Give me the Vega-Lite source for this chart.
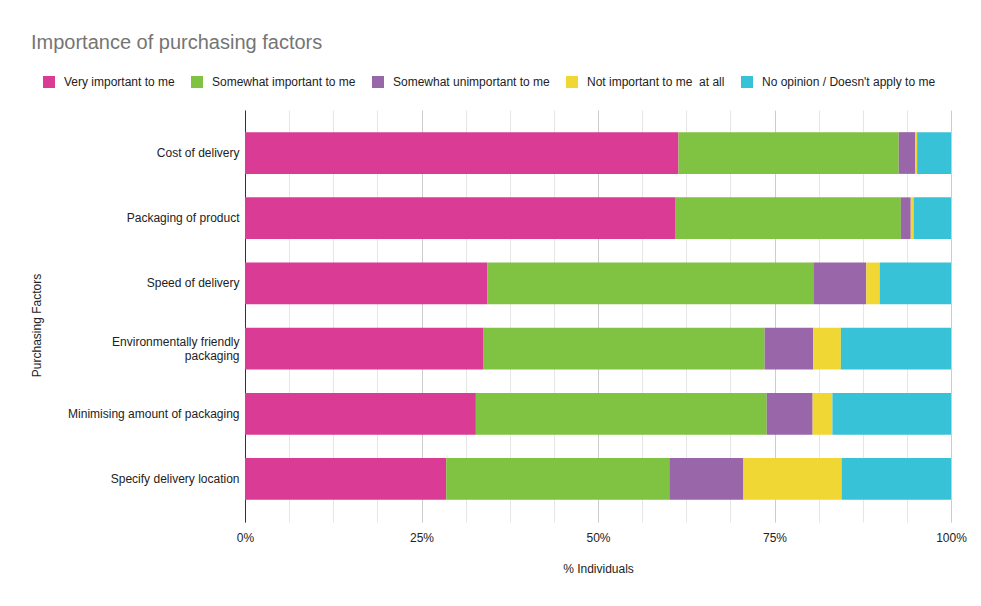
{
  "$schema": "https://vega.github.io/schema/vega-lite/v6.json",
  "width": 706,
  "height": 412,
  "autosize": {"type": "none"},
  "padding": {"left": 245, "top": 110, "right": 30, "bottom": 84},
  "background": "white",
  "config": {
    "font": "Liberation Sans",
    "view": {"stroke": null}
  },
  "title": {
    "text": "Importance of purchasing factors",
    "anchor": "start",
    "frame": "group",
    "fontSize": 20,
    "fontWeight": "normal",
    "color": "#757575",
    "dx": -214,
    "dy": -19
  },
  "data": {
    "values": [
      {"factor": "Cost of delivery", "response": "Very important to me", "rank": 1, "pct": 61.4},
      {"factor": "Cost of delivery", "response": "Somewhat important to me", "rank": 2, "pct": 31.2},
      {"factor": "Cost of delivery", "response": "Somewhat unimportant to me", "rank": 3, "pct": 2.3},
      {"factor": "Cost of delivery", "response": "Not important to me  at all", "rank": 4, "pct": 0.3},
      {"factor": "Cost of delivery", "response": "No opinion / Doesn't apply to me", "rank": 5, "pct": 4.8},
      {"factor": "Packaging of product", "response": "Very important to me", "rank": 1, "pct": 61.0},
      {"factor": "Packaging of product", "response": "Somewhat important to me", "rank": 2, "pct": 31.9},
      {"factor": "Packaging of product", "response": "Somewhat unimportant to me", "rank": 3, "pct": 1.4},
      {"factor": "Packaging of product", "response": "Not important to me  at all", "rank": 4, "pct": 0.4},
      {"factor": "Packaging of product", "response": "No opinion / Doesn't apply to me", "rank": 5, "pct": 5.3},
      {"factor": "Speed of delivery", "response": "Very important to me", "rank": 1, "pct": 34.3},
      {"factor": "Speed of delivery", "response": "Somewhat important to me", "rank": 2, "pct": 46.2},
      {"factor": "Speed of delivery", "response": "Somewhat unimportant to me", "rank": 3, "pct": 7.5},
      {"factor": "Speed of delivery", "response": "Not important to me  at all", "rank": 4, "pct": 1.9},
      {"factor": "Speed of delivery", "response": "No opinion / Doesn't apply to me", "rank": 5, "pct": 10.1},
      {"factor": "Environmentally friendly packaging", "response": "Very important to me", "rank": 1, "pct": 33.8},
      {"factor": "Environmentally friendly packaging", "response": "Somewhat important to me", "rank": 2, "pct": 39.8},
      {"factor": "Environmentally friendly packaging", "response": "Somewhat unimportant to me", "rank": 3, "pct": 6.9},
      {"factor": "Environmentally friendly packaging", "response": "Not important to me  at all", "rank": 4, "pct": 3.9},
      {"factor": "Environmentally friendly packaging", "response": "No opinion / Doesn't apply to me", "rank": 5, "pct": 15.6},
      {"factor": "Minimising amount of packaging", "response": "Very important to me", "rank": 1, "pct": 32.7},
      {"factor": "Minimising amount of packaging", "response": "Somewhat important to me", "rank": 2, "pct": 41.2},
      {"factor": "Minimising amount of packaging", "response": "Somewhat unimportant to me", "rank": 3, "pct": 6.5},
      {"factor": "Minimising amount of packaging", "response": "Not important to me  at all", "rank": 4, "pct": 2.8},
      {"factor": "Minimising amount of packaging", "response": "No opinion / Doesn't apply to me", "rank": 5, "pct": 16.8},
      {"factor": "Specify delivery location", "response": "Very important to me", "rank": 1, "pct": 28.5},
      {"factor": "Specify delivery location", "response": "Somewhat important to me", "rank": 2, "pct": 31.6},
      {"factor": "Specify delivery location", "response": "Somewhat unimportant to me", "rank": 3, "pct": 10.5},
      {"factor": "Specify delivery location", "response": "Not important to me  at all", "rank": 4, "pct": 13.9},
      {"factor": "Specify delivery location", "response": "No opinion / Doesn't apply to me", "rank": 5, "pct": 15.5}
    ]
  },
  "mark": {"type": "bar"},
  "encoding": {
    "y": {
      "field": "factor",
      "type": "nominal",
      "sort": null,
      "scale": {"paddingInner": 0.36, "paddingOuter": 0.34},
      "axis": {
        "title": "Purchasing Factors",
        "titleFontSize": 12,
        "titleFontWeight": "normal",
        "titleColor": "#222222",
        "titleX": -202,
        "titleY": 215,
        "labelFontSize": 12,
        "labelColor": "#222222",
        "labelPadding": 6,
        "labelLineHeight": 14,
        "labelLimit": 300,
        "labelExpr": "datum.value == 'Environmentally friendly packaging' ? ['Environmentally friendly', 'packaging'] : datum.value",
        "labelOffset": {"condition": {"test": "datum.value == 'Environmentally friendly packaging'", "value": -7}, "value": 0},
        "ticks": false,
        "tickSize": 0,
        "domainColor": "#333333",
        "domainWidth": 1
      }
    },
    "x": {
      "field": "pct",
      "type": "quantitative",
      "stack": "normalize",
      "scale": {"domain": [0, 1], "nice": false},
      "axis": {
        "title": "% Individuals",
        "titleFontSize": 12,
        "titleFontWeight": "normal",
        "titleColor": "#222222",
        "titleBaseline": "alphabetic",
        "titleY": 50,
        "values": [0, 0.0625, 0.125, 0.1875, 0.25, 0.3125, 0.375, 0.4375, 0.5, 0.5625, 0.625, 0.6875, 0.75, 0.8125, 0.875, 0.9375, 1],
        "labelExpr": "(datum.value * 4) % 1 == 0 ? format(datum.value, '.0%') : ''",
        "labelFontSize": 12,
        "labelColor": "#222222",
        "labelBaseline": "alphabetic",
        "labelPadding": 19,
        "labelFlush": false,
        "labelOverlap": false,
        "ticks": false,
        "tickSize": 0,
        "domain": false,
        "gridColor": {"condition": {"test": "(datum.value * 4) % 1 == 0", "value": "#cccccc"}, "value": "#e6e6e6"}
      }
    },
    "color": {
      "field": "response",
      "type": "nominal",
      "sort": ["Very important to me", "Somewhat important to me", "Somewhat unimportant to me", "Not important to me  at all", "No opinion / Doesn't apply to me"],
      "scale": {
        "domain": ["Very important to me", "Somewhat important to me", "Somewhat unimportant to me", "Not important to me  at all", "No opinion / Doesn't apply to me"],
        "range": ["#da3b95", "#80c242", "#9a66aa", "#f0d733", "#38c2d8"]
      },
      "legend": {
        "title": null,
        "orient": "none",
        "direction": "horizontal",
        "legendX": -202,
        "legendY": -34,
        "symbolType": "square",
        "symbolSize": 144,
        "symbolStrokeWidth": 0,
        "labelFontSize": 12,
        "labelColor": "#222222",
        "labelOffset": 9,
        "columnPadding": 16,
        "labelLimit": 300,
        "labelExpr": "replace(datum.label, 'me  at', 'me\u00a0\u00a0at')"
      }
    },
    "order": {"field": "rank", "type": "quantitative"}
  }
}
